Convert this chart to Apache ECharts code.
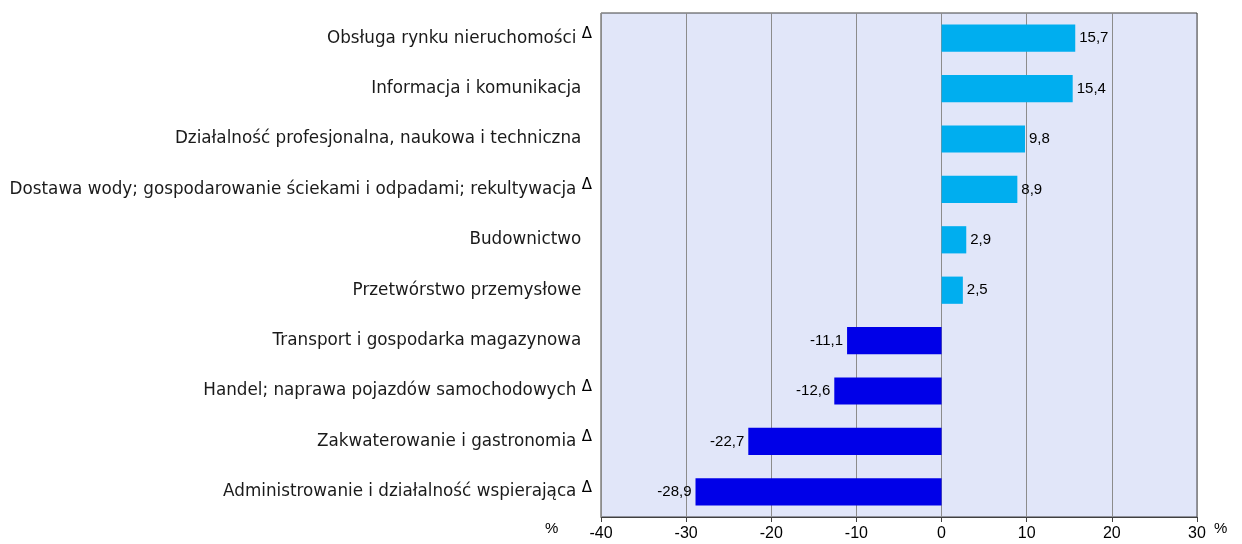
<!DOCTYPE html>
<html lang="pl">
<head>
    <meta charset="UTF-8">
    <title>Zmiana w %</title>
    <script src="https://cdn.jsdelivr.net/npm/echarts@6/dist/echarts.min.js"></script>
    <style>
        body { margin: 0; background: #fff; }
    </style>
</head>
<body>
<div id="chart" style="width: 1242px;height: 544px;"></div>
<script>
    // dane
    var sekcje = [
        'Obsługa rynku nieruchomości',
        'Informacja i komunikacja',
        'Działalność profesjonalna, naukowa i techniczna',
        'Dostawa wody; gospodarowanie ściekami i odpadami; rekultywacja',
        'Budownictwo',
        'Przetwórstwo przemysłowe',
        'Transport i gospodarka magazynowa',
        'Handel; naprawa pojazdów samochodowych',
        'Zakwaterowanie i gastronomia',
        'Administrowanie i działalność wspierająca'
    ];
    var delta = [true, false, false, true, false, false, false, true, true, true];
    var zmiana = [15.7, 15.4, 9.8, 8.9, 2.9, 2.5, -11.1, -12.6, -22.7, -28.9];
    var ticks = [-40, -30, -20, -10, 0, 10, 20, 30];

    var myChart = echarts.init(document.getElementById('chart'));

    var dane = [];
    for (var i = 0; i < zmiana.length; i++) {
        var ujemne = zmiana[i] < 0;
        dane.push({
            value: zmiana[i],
            itemStyle: { color: ujemne ? '#0000E8' : '#00AEEF' },
            label: { position: ujemne ? 'left' : 'right' }
        });
    }

    var option = {
        animation: false,
        grid: {
            left: 601,
            right: 45,
            top: 13,
            bottom: 27,
            show: true,
            backgroundColor: '#E1E6F9',
            borderColor: '#404040',
            borderWidth: 1
        },
        xAxis: {
            type: 'value',
            min: ticks[0],
            max: ticks[ticks.length - 1],
            interval: 10,
            axisLine: { show: true, lineStyle: { color: '#404040' } },
            axisTick: { show: true, length: 5, lineStyle: { color: '#404040' } },
            axisLabel: {
                color: '#000',
                fontFamily: 'Liberation Sans',
                fontSize: 16,
                margin: 9
            },
            splitLine: { show: true, lineStyle: { color: '#8C8C8C', width: 1 } }
        },
        yAxis: {
            type: 'category',
            inverse: true,
            data: sekcje,
            axisLine: { show: false },
            axisTick: { show: false },
            splitLine: { show: false },
            axisLabel: {
                margin: 9,
                formatter: function (v, idx) {
                    return delta[idx] ? v + ' {d|Δ}' : v + '  ';
                },
                color: '#1a1a1a',
                fontFamily: 'DejaVu Sans',
                fontSize: 16.8,
                rich: {
                    d: { fontSize: 15, fontFamily: 'DejaVu Sans', color: '#000', padding: [0, 0, 8, 0] }
                }
            }
        },
        series: [
            {
                type: 'bar',
                data: dane,
                barWidth: '54%',
                label: {
                    show: true,
                    color: '#000',
                    fontFamily: 'Liberation Sans',
                    fontSize: 15,
                    distance: 4,
                    formatter: function (p) {
                        return String(p.value).replace('.', ',');
                    }
                }
            }
        ],
        graphic: [
            { type: 'text', left: 545, top: 521, style: { text: '%', fontSize: 15, fontFamily: 'Liberation Sans', fill: '#000' } },
            { type: 'text', left: 1214, top: 521, style: { text: '%', fontSize: 15, fontFamily: 'Liberation Sans', fill: '#000' } }
        ]
    };
    myChart.setOption(option);
</script>
</body>
</html>
